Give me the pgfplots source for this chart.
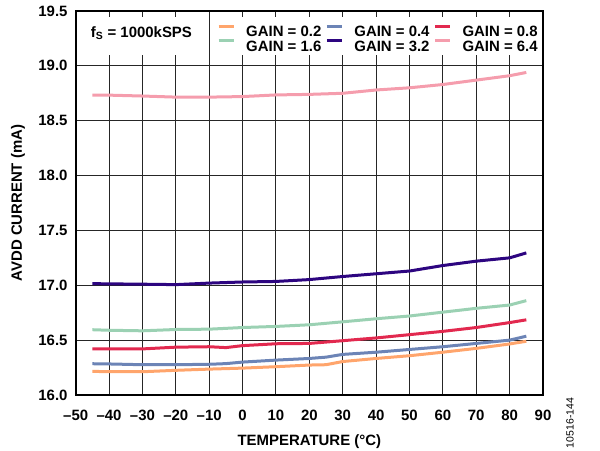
\documentclass[border=0pt]{standalone}
\usepackage{fontspec}
\setmainfont{Liberation Sans}
\usepackage{pgfplots}
\pgfplotsset{compat=1.18}
\definecolor{cOrange}{HTML}{FFA56C}
\definecolor{cBlue}{HTML}{6C84B6}
\definecolor{cRed}{HTML}{E2294F}
\definecolor{cGreen}{HTML}{9BD1B3}
\definecolor{cPurple}{HTML}{2D0580}
\definecolor{cPink}{HTML}{F59DAD}
\newcommand{\lf}{\fontsize{15}{15}\selectfont\bfseries}
\begin{document}
\begin{tikzpicture}
\begin{axis}[
  scale only axis, width=467.3bp, height=384bp,
  xmin=-50, xmax=90, ymin=16, ymax=19.5,
  xtick={-50,-40,...,90},
  xticklabels={--50,--40,--30,--20,--10,0,10,20,30,40,50,60,70,80,90},
  ytick={16,16.5,...,19.5},
  /pgf/number format/assume math mode=true,
  grid=major, major grid style={black!85, line width=1bp},
  major tick length=0pt,
  axis line style={black, line width=2bp},
  tick label style={font=\lf},
  xticklabel style={anchor=base, yshift=-26bp},
  yticklabel style={/pgf/number format/fixed, /pgf/number format/fixed zerofill, /pgf/number format/precision=1, anchor=east, inner sep=0pt, xshift=-8bp},
  label style={font=\lf},
  xlabel={TEMPERATURE (°C)}, ylabel={AVDD CURRENT (mA)},
  xlabel style={at={(axis description cs:0.5,-0.1216)}, anchor=center},
  ylabel style={at={(axis description cs:-0.1235,0.5)}, anchor=center},
  legend columns=3,
  legend style={draw=none, fill=none, at={(0.3024,0.9648)}, anchor=north west, inner sep=0pt,
    nodes={inner sep=0pt, text height=10.7bp, text depth=0bp, font=\lf},
    row sep=2bp,
    /tikz/every odd column/.append style={column sep=11bp},
    /tikz/every even column/.append style={column sep=4bp}},
  legend image code/.code={\draw[#1] (0bp,5.3bp) -- (15bp,5.3bp);},
  every axis plot/.append style={line width=3bp, line join=round},
]
\addplot[cOrange] coordinates {(-45,16.215)(-40,16.213)(-30,16.212)(-20,16.225)(-10,16.236)(0,16.245)(10,16.258)(20,16.273)(25,16.276)(30,16.305)(40,16.333)(50,16.358)(60,16.39)(70,16.425)(80,16.465)(85,16.49)};
\addlegendentry{\lf GAIN = 0.2}
\addplot[cBlue] coordinates {(-45,16.285)(-40,16.283)(-30,16.276)(-20,16.276)(-10,16.28)(-5,16.286)(0,16.30)(10,16.318)(20,16.333)(25,16.345)(30,16.37)(40,16.39)(50,16.415)(60,16.44)(70,16.47)(80,16.50)(85,16.536)};
\addlegendentry{\lf GAIN = 0.4}
\addplot[cRed] coordinates {(-45,16.42)(-40,16.42)(-30,16.42)(-20,16.436)(-10,16.44)(-5,16.432)(0,16.45)(10,16.467)(20,16.47)(30,16.495)(40,16.52)(50,16.55)(60,16.58)(70,16.615)(80,16.66)(85,16.685)};
\addlegendentry{\lf GAIN = 0.8}
\addplot[cGreen] coordinates {(-45,16.595)(-40,16.59)(-30,16.585)(-20,16.597)(-10,16.60)(0,16.615)(10,16.625)(20,16.64)(30,16.667)(40,16.695)(50,16.72)(60,16.755)(70,16.79)(80,16.82)(85,16.86)};
\addlegendentry{\lf GAIN = 1.6}
\addplot[cPurple] coordinates {(-45,17.015)(-40,17.013)(-30,17.01)(-20,17.006)(-10,17.02)(0,17.03)(10,17.035)(20,17.052)(30,17.08)(40,17.105)(50,17.13)(60,17.18)(70,17.22)(80,17.25)(85,17.295)};
\addlegendentry{\lf GAIN = 3.2}
\addplot[cPink] coordinates {(-45,18.733)(-40,18.733)(-30,18.725)(-20,18.715)(-10,18.715)(0,18.72)(10,18.735)(20,18.74)(30,18.75)(40,18.78)(50,18.80)(60,18.83)(70,18.87)(80,18.91)(85,18.94)};
\addlegendentry{\lf GAIN = 6.4}
\fill[white] (axis cs:-49.6,19.445) rectangle (axis cs:-10.18,19.10);
\fill[white] (axis cs:-9.82,19.445) rectangle (axis cs:89.6,19.10);
\node[font=\lf, anchor=center] at (axis cs:-30.3,19.30) {f\textsubscript{S} = 1000kSPS};
\end{axis}
\node[rotate=90, anchor=center, font=\fontsize{10.5}{10.5}\selectfont] at ([shift={(494.3bp,-28bp)}]current axis.south west) {10516-144};
\pgfresetboundingbox
\path[use as bounding box] ([shift={(-75.7bp,-56bp)}]current axis.south west) rectangle ([shift={(524.3bp,395bp)}]current axis.south west);
\end{tikzpicture}
\end{document}
